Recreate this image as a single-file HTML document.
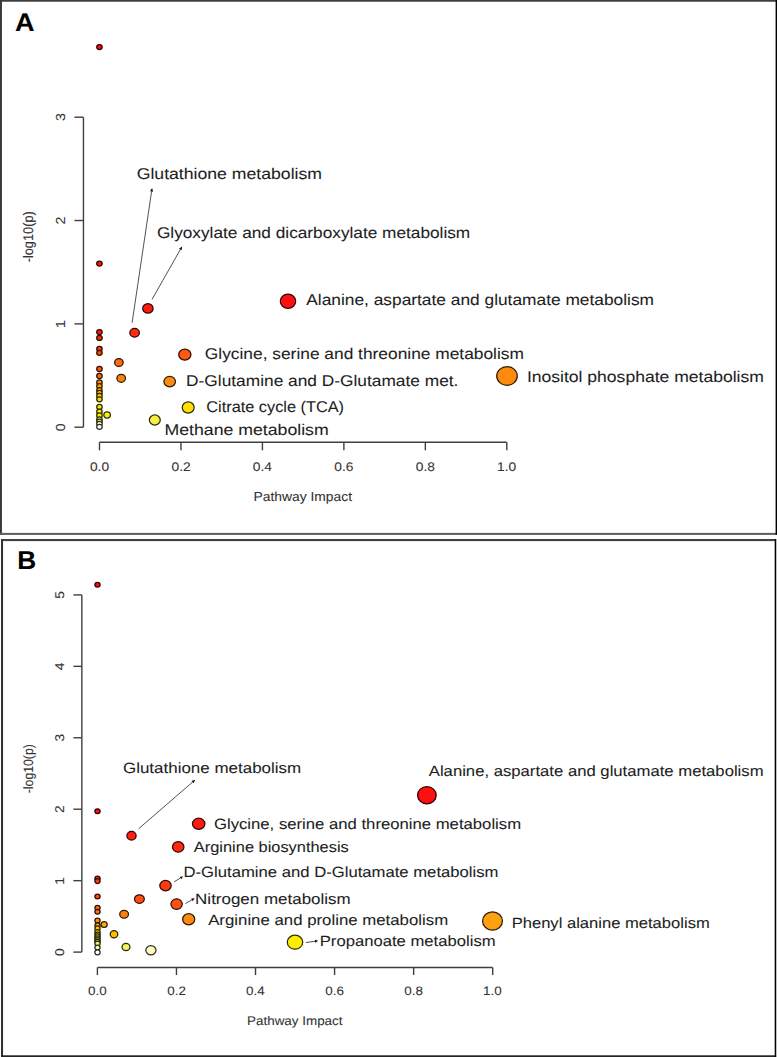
<!DOCTYPE html>
<html><head><meta charset="utf-8"><title>Pathway impact plots</title>
<style>
html,body{margin:0;padding:0;background:#fff;overflow:hidden;width:777px;height:1057px;}
svg{display:block;}
text{font-family:"Liberation Sans",sans-serif;font-kerning:none;font-variant-ligatures:none;text-rendering:geometricPrecision;}
</style></head><body>
<svg width="777" height="1057" viewBox="0 0 777 1057">
<rect x="0" y="0" width="777" height="1057" fill="#fff"/>
<rect x="0" y="0" width="777" height="1.75" fill="#404040"/>
<rect x="0" y="0" width="1.95" height="534.9" fill="#383838"/>
<rect x="0" y="532.9" width="776" height="2.0" fill="#5c5c5c"/>
<rect x="775.6" y="0" width="1.4" height="534.9" fill="#000"/>
<rect x="1" y="539" width="775.3" height="2.1" fill="#424242"/>
<rect x="1" y="539" width="2.05" height="518" fill="#323232"/>
<rect x="1" y="1055.3" width="775.3" height="1.7" fill="#222"/>
<rect x="774.7" y="539" width="1.6" height="518" fill="#000"/>
<rect x="776.3" y="539" width="0.7" height="518" fill="#c8c8c8"/>
<text transform="translate(14.92,30.60) scale(1.0726,1)" font-size="25.29" font-weight="bold" fill="#000" stroke="#000" stroke-width="0.08" >A</text>
<text transform="translate(17.14,568.90) scale(1.0140,1)" font-size="25.87" font-weight="bold" fill="#000" stroke="#000" stroke-width="0.08" >B</text>
<path d="M83.45,117.2 V427.2" stroke="#3f3f3f" stroke-width="1.4" fill="none"/>
<path d="M74.45,427.20 H83.45" stroke="#3f3f3f" stroke-width="1.4"/>
<text transform="translate(65.20,431.13) rotate(-90) scale(1.0800,1)" font-size="13.08" fill="#333" stroke="#333" stroke-width="0.1">0</text>
<path d="M74.45,323.87 H83.45" stroke="#3f3f3f" stroke-width="1.4"/>
<text transform="translate(65.20,327.99) rotate(-90) scale(1.0800,1)" font-size="13.08" fill="#333" stroke="#333" stroke-width="0.1">1</text>
<path d="M74.45,220.53 H83.45" stroke="#3f3f3f" stroke-width="1.4"/>
<text transform="translate(65.20,224.46) rotate(-90) scale(1.0800,1)" font-size="13.08" fill="#333" stroke="#333" stroke-width="0.1">2</text>
<path d="M74.45,117.20 H83.45" stroke="#3f3f3f" stroke-width="1.4"/>
<text transform="translate(65.20,121.09) rotate(-90) scale(1.0800,1)" font-size="13.08" fill="#333" stroke="#333" stroke-width="0.1">3</text>
<path d="M99.5,442.3 H506.8" stroke="#3f3f3f" stroke-width="1.4" fill="none"/>
<path d="M99.50,442.3 V450.3" stroke="#3f3f3f" stroke-width="1.4"/>
<text transform="translate(89.94,470.60) scale(1.1000,1)" font-size="12.50" font-weight="normal" fill="#333" stroke="#333" stroke-width="0.08" >0.0</text>
<path d="M180.96,442.3 V450.3" stroke="#3f3f3f" stroke-width="1.4"/>
<text transform="translate(171.48,470.60) scale(1.1000,1)" font-size="12.50" font-weight="normal" fill="#333" stroke="#333" stroke-width="0.08" >0.2</text>
<path d="M262.42,442.3 V450.3" stroke="#3f3f3f" stroke-width="1.4"/>
<text transform="translate(252.80,470.60) scale(1.1000,1)" font-size="12.50" font-weight="normal" fill="#333" stroke="#333" stroke-width="0.08" >0.4</text>
<path d="M343.88,442.3 V450.3" stroke="#3f3f3f" stroke-width="1.4"/>
<text transform="translate(334.36,470.60) scale(1.1000,1)" font-size="12.50" font-weight="normal" fill="#333" stroke="#333" stroke-width="0.08" >0.6</text>
<path d="M425.34,442.3 V450.3" stroke="#3f3f3f" stroke-width="1.4"/>
<text transform="translate(415.81,470.60) scale(1.1000,1)" font-size="12.50" font-weight="normal" fill="#333" stroke="#333" stroke-width="0.08" >0.8</text>
<path d="M506.80,442.3 V450.3" stroke="#3f3f3f" stroke-width="1.4"/>
<text transform="translate(496.99,470.60) scale(1.1000,1)" font-size="12.50" font-weight="normal" fill="#333" stroke="#333" stroke-width="0.08" >1.0</text>
<text transform="translate(253.46,501.30) scale(1.0599,1)" font-size="13.08" font-weight="normal" fill="#333" stroke="#333" stroke-width="0.08" >Pathway Impact</text>
<text transform="translate(33.00,262.37) rotate(-90) scale(0.9162,1)" font-size="13.95" fill="#333" stroke="#333" stroke-width="0.1">-log10(p)</text>
<path d="M81.85,594.9 V952.1" stroke="#3f3f3f" stroke-width="1.4" fill="none"/>
<path d="M73.35,952.10 H81.85" stroke="#3f3f3f" stroke-width="1.4"/>
<text transform="translate(64.00,955.94) rotate(-90) scale(1.0800,1)" font-size="12.79" fill="#333" stroke="#333" stroke-width="0.1">0</text>
<path d="M73.35,880.66 H81.85" stroke="#3f3f3f" stroke-width="1.4"/>
<text transform="translate(64.00,884.69) rotate(-90) scale(1.0800,1)" font-size="12.79" fill="#333" stroke="#333" stroke-width="0.1">1</text>
<path d="M73.35,809.22 H81.85" stroke="#3f3f3f" stroke-width="1.4"/>
<text transform="translate(64.00,813.06) rotate(-90) scale(1.0800,1)" font-size="12.79" fill="#333" stroke="#333" stroke-width="0.1">2</text>
<path d="M73.35,737.78 H81.85" stroke="#3f3f3f" stroke-width="1.4"/>
<text transform="translate(64.00,741.58) rotate(-90) scale(1.0800,1)" font-size="12.79" fill="#333" stroke="#333" stroke-width="0.1">3</text>
<path d="M73.35,666.34 H81.85" stroke="#3f3f3f" stroke-width="1.4"/>
<text transform="translate(64.00,670.14) rotate(-90) scale(1.0800,1)" font-size="12.79" fill="#333" stroke="#333" stroke-width="0.1">4</text>
<path d="M73.35,594.90 H81.85" stroke="#3f3f3f" stroke-width="1.4"/>
<text transform="translate(64.00,598.73) rotate(-90) scale(1.0800,1)" font-size="12.79" fill="#333" stroke="#333" stroke-width="0.1">5</text>
<path d="M97.4,967.5 H492.7" stroke="#3f3f3f" stroke-width="1.4" fill="none"/>
<path d="M97.40,967.5 V975.0" stroke="#3f3f3f" stroke-width="1.4"/>
<text transform="translate(88.06,995.00) scale(1.1000,1)" font-size="12.21" font-weight="normal" fill="#333" stroke="#333" stroke-width="0.08" >0.0</text>
<path d="M176.46,967.5 V975.0" stroke="#3f3f3f" stroke-width="1.4"/>
<text transform="translate(167.20,995.00) scale(1.1000,1)" font-size="12.21" font-weight="normal" fill="#333" stroke="#333" stroke-width="0.08" >0.2</text>
<path d="M255.52,967.5 V975.0" stroke="#3f3f3f" stroke-width="1.4"/>
<text transform="translate(246.12,995.00) scale(1.1000,1)" font-size="12.21" font-weight="normal" fill="#333" stroke="#333" stroke-width="0.08" >0.4</text>
<path d="M334.58,967.5 V975.0" stroke="#3f3f3f" stroke-width="1.4"/>
<text transform="translate(325.28,995.00) scale(1.1000,1)" font-size="12.21" font-weight="normal" fill="#333" stroke="#333" stroke-width="0.08" >0.6</text>
<path d="M413.64,967.5 V975.0" stroke="#3f3f3f" stroke-width="1.4"/>
<text transform="translate(404.33,995.00) scale(1.1000,1)" font-size="12.21" font-weight="normal" fill="#333" stroke="#333" stroke-width="0.08" >0.8</text>
<path d="M492.70,967.5 V975.0" stroke="#3f3f3f" stroke-width="1.4"/>
<text transform="translate(483.12,995.00) scale(1.1000,1)" font-size="12.21" font-weight="normal" fill="#333" stroke="#333" stroke-width="0.08" >1.0</text>
<text transform="translate(247.10,1024.60) scale(1.0727,1)" font-size="12.50" font-weight="normal" fill="#333" stroke="#333" stroke-width="0.08" >Pathway Impact</text>
<text transform="translate(32.60,793.25) rotate(-90) scale(0.9077,1)" font-size="13.52" fill="#333" stroke="#333" stroke-width="0.1">-log10(p)</text>
<ellipse cx="99.45" cy="47.10" rx="2.73" ry="2.52" fill="#ff0a0a" stroke="#2d0101" stroke-width="1.25"/>
<ellipse cx="99.45" cy="263.60" rx="2.73" ry="2.52" fill="#ff0f0a" stroke="#2d0201" stroke-width="1.25"/>
<ellipse cx="99.45" cy="332.10" rx="2.73" ry="2.52" fill="#ff2000" stroke="#2d0500" stroke-width="1.25"/>
<ellipse cx="99.45" cy="337.90" rx="2.73" ry="2.52" fill="#ff3000" stroke="#2d0800" stroke-width="1.25"/>
<ellipse cx="99.45" cy="348.80" rx="2.73" ry="2.52" fill="#ff4000" stroke="#2d0b00" stroke-width="1.25"/>
<ellipse cx="99.45" cy="352.80" rx="2.73" ry="2.52" fill="#ff4a00" stroke="#2d0d00" stroke-width="1.25"/>
<ellipse cx="99.45" cy="369.00" rx="2.73" ry="2.52" fill="#ff5a10" stroke="#2d1002" stroke-width="1.25"/>
<ellipse cx="99.45" cy="376.00" rx="2.73" ry="2.52" fill="#ff6a10" stroke="#2d1302" stroke-width="1.25"/>
<ellipse cx="99.45" cy="382.50" rx="2.73" ry="2.52" fill="#ff8a00" stroke="#2d1800" stroke-width="1.25"/>
<ellipse cx="99.45" cy="386.10" rx="2.73" ry="2.52" fill="#ffa000" stroke="#2d1c00" stroke-width="1.25"/>
<ellipse cx="99.45" cy="390.20" rx="2.73" ry="2.52" fill="#ffb000" stroke="#2d1f00" stroke-width="1.25"/>
<ellipse cx="99.45" cy="392.80" rx="2.73" ry="2.52" fill="#ffbc00" stroke="#2d2100" stroke-width="1.25"/>
<ellipse cx="99.45" cy="396.00" rx="2.73" ry="2.52" fill="#ffc800" stroke="#2d2400" stroke-width="1.25"/>
<ellipse cx="99.45" cy="399.30" rx="2.73" ry="2.52" fill="#ffd800" stroke="#2d2600" stroke-width="1.25"/>
<ellipse cx="99.45" cy="406.90" rx="2.73" ry="2.52" fill="#ffe800" stroke="#2d2900" stroke-width="1.25"/>
<ellipse cx="99.45" cy="411.70" rx="2.73" ry="2.52" fill="#ffee00" stroke="#2d2a00" stroke-width="1.25"/>
<ellipse cx="99.45" cy="415.50" rx="2.73" ry="2.52" fill="#fff000" stroke="#2d2b00" stroke-width="1.25"/>
<ellipse cx="99.45" cy="419.40" rx="2.73" ry="2.52" fill="#f8f860" stroke="#2c2c11" stroke-width="1.25"/>
<ellipse cx="99.45" cy="421.60" rx="2.73" ry="2.52" fill="#f8f880" stroke="#2c2c17" stroke-width="1.25"/>
<ellipse cx="99.45" cy="423.80" rx="2.73" ry="2.52" fill="#fffcc0" stroke="#2d2d22" stroke-width="1.25"/>
<ellipse cx="99.45" cy="426.80" rx="2.73" ry="2.52" fill="#ffffff" stroke="#2d2d2d" stroke-width="1.25"/>
<ellipse cx="107.10" cy="415.00" rx="3.27" ry="3.08" fill="#fff000" stroke="#2d2b00" stroke-width="1.25"/>
<ellipse cx="118.90" cy="362.50" rx="4.28" ry="3.97" fill="#ff6a10" stroke="#2d1302" stroke-width="1.25"/>
<ellipse cx="121.20" cy="378.30" rx="4.28" ry="3.97" fill="#ff8010" stroke="#2d1702" stroke-width="1.25"/>
<ellipse cx="134.60" cy="332.80" rx="4.78" ry="4.38" fill="#ff2a10" stroke="#2d0702" stroke-width="1.25"/>
<ellipse cx="147.90" cy="308.40" rx="5.17" ry="4.72" fill="#ff1a10" stroke="#2d0402" stroke-width="1.25"/>
<ellipse cx="288.00" cy="301.20" rx="7.68" ry="7.08" fill="#ff1010" stroke="#2d0202" stroke-width="1.25"/>
<ellipse cx="184.80" cy="354.60" rx="6.12" ry="5.53" fill="#ff5a10" stroke="#2d1002" stroke-width="1.25"/>
<ellipse cx="169.70" cy="381.60" rx="5.78" ry="5.22" fill="#ff8a10" stroke="#2d1802" stroke-width="1.25"/>
<ellipse cx="188.20" cy="407.50" rx="5.97" ry="5.62" fill="#ffe000" stroke="#2d2800" stroke-width="1.25"/>
<ellipse cx="154.80" cy="420.00" rx="5.47" ry="5.03" fill="#f8f040" stroke="#2c2b0b" stroke-width="1.25"/>
<ellipse cx="507.00" cy="376.00" rx="10.28" ry="9.32" fill="#ff8a10" stroke="#2d1802" stroke-width="1.25"/>
<line x1="132.10" y1="322.80" x2="151.57" y2="191.56" stroke="#333" stroke-width="0.85"/>
<polygon points="152.10,188.00 153.15,191.80 149.99,191.33" fill="#111"/>
<line x1="152.10" y1="299.30" x2="180.32" y2="249.53" stroke="#333" stroke-width="0.85"/>
<polygon points="182.10,246.40 181.72,250.32 178.93,248.74" fill="#111"/>
<text transform="translate(136.71,178.80) scale(1.1344,1)" font-size="15.55" font-weight="normal" fill="#1e1e1e" stroke="#1e1e1e" stroke-width="0.08" >Glutathione metabolism</text>
<text transform="translate(156.93,238.00) scale(1.1087,1)" font-size="15.55" font-weight="normal" fill="#1e1e1e" stroke="#1e1e1e" stroke-width="0.08" >Glyoxylate and dicarboxylate metabolism</text>
<text transform="translate(306.27,304.60) scale(1.1146,1)" font-size="15.55" font-weight="normal" fill="#1e1e1e" stroke="#1e1e1e" stroke-width="0.08" >Alanine, aspartate and glutamate metabolism</text>
<text transform="translate(204.83,358.80) scale(1.1156,1)" font-size="15.55" font-weight="normal" fill="#1e1e1e" stroke="#1e1e1e" stroke-width="0.08" >Glycine, serine and threonine metabolism</text>
<text transform="translate(186.08,386.00) scale(1.1136,1)" font-size="15.55" font-weight="normal" fill="#1e1e1e" stroke="#1e1e1e" stroke-width="0.08" >D-Glutamine and D-Glutamate met.</text>
<text transform="translate(526.88,382.10) scale(1.1285,1)" font-size="15.55" font-weight="normal" fill="#1e1e1e" stroke="#1e1e1e" stroke-width="0.08" >Inositol phosphate metabolism</text>
<text transform="translate(206.27,412.00) scale(1.0494,1)" font-size="15.55" font-weight="normal" fill="#1e1e1e" stroke="#1e1e1e" stroke-width="0.08" >Citrate cycle (TCA)</text>
<text transform="translate(164.45,435.30) scale(1.1382,1)" font-size="15.55" font-weight="normal" fill="#1e1e1e" stroke="#1e1e1e" stroke-width="0.08" >Methane metabolism</text>
<ellipse cx="97.50" cy="584.70" rx="2.62" ry="2.42" fill="#ff0a0a" stroke="#2d0101" stroke-width="1.25"/>
<ellipse cx="97.50" cy="811.20" rx="2.62" ry="2.42" fill="#ff100a" stroke="#2d0201" stroke-width="1.25"/>
<ellipse cx="97.50" cy="878.60" rx="2.62" ry="2.42" fill="#ff2a00" stroke="#2d0700" stroke-width="1.25"/>
<ellipse cx="97.50" cy="881.10" rx="2.62" ry="2.42" fill="#ff3a10" stroke="#2d0a02" stroke-width="1.25"/>
<ellipse cx="97.50" cy="896.50" rx="2.62" ry="2.42" fill="#ff4a10" stroke="#2d0d02" stroke-width="1.25"/>
<ellipse cx="97.50" cy="907.70" rx="2.62" ry="2.42" fill="#ff6a20" stroke="#2d1305" stroke-width="1.25"/>
<ellipse cx="97.50" cy="911.80" rx="2.62" ry="2.42" fill="#ff7010" stroke="#2d1402" stroke-width="1.25"/>
<ellipse cx="97.50" cy="920.60" rx="2.62" ry="2.42" fill="#ff9010" stroke="#2d1902" stroke-width="1.25"/>
<ellipse cx="97.50" cy="925.30" rx="2.62" ry="2.42" fill="#ffa800" stroke="#2d1e00" stroke-width="1.25"/>
<ellipse cx="97.50" cy="928.40" rx="2.62" ry="2.42" fill="#ffc000" stroke="#2d2200" stroke-width="1.25"/>
<ellipse cx="97.50" cy="932.00" rx="2.62" ry="2.42" fill="#ffd000" stroke="#2d2500" stroke-width="1.25"/>
<ellipse cx="97.50" cy="934.60" rx="2.62" ry="2.42" fill="#e8d820" stroke="#292605" stroke-width="1.25"/>
<ellipse cx="97.50" cy="936.40" rx="2.62" ry="2.42" fill="#e0d840" stroke="#28260b" stroke-width="1.25"/>
<ellipse cx="97.50" cy="938.20" rx="2.62" ry="2.42" fill="#e0e040" stroke="#28280b" stroke-width="1.25"/>
<ellipse cx="97.50" cy="940.00" rx="2.62" ry="2.42" fill="#e0e040" stroke="#28280b" stroke-width="1.25"/>
<ellipse cx="97.50" cy="941.80" rx="2.62" ry="2.42" fill="#e8e860" stroke="#292911" stroke-width="1.25"/>
<ellipse cx="97.50" cy="943.60" rx="2.62" ry="2.42" fill="#f0f080" stroke="#2b2b17" stroke-width="1.25"/>
<ellipse cx="97.50" cy="947.60" rx="2.62" ry="2.42" fill="#fff8a0" stroke="#2d2c1c" stroke-width="1.25"/>
<ellipse cx="97.50" cy="952.40" rx="2.62" ry="2.42" fill="#ffffff" stroke="#2d2d2d" stroke-width="1.25"/>
<ellipse cx="104.10" cy="924.60" rx="3.08" ry="2.88" fill="#ffa810" stroke="#2d1e02" stroke-width="1.25"/>
<ellipse cx="114.00" cy="934.20" rx="3.78" ry="3.58" fill="#ffc000" stroke="#2d2200" stroke-width="1.25"/>
<ellipse cx="126.00" cy="947.00" rx="3.97" ry="3.67" fill="#f8f060" stroke="#2c2b11" stroke-width="1.25"/>
<ellipse cx="150.90" cy="950.30" rx="5.08" ry="4.58" fill="#fffac0" stroke="#2d2d22" stroke-width="1.25"/>
<ellipse cx="124.10" cy="914.20" rx="4.38" ry="3.92" fill="#ff8010" stroke="#2d1702" stroke-width="1.25"/>
<ellipse cx="139.40" cy="899.10" rx="4.88" ry="4.28" fill="#ff5010" stroke="#2d0e02" stroke-width="1.25"/>
<ellipse cx="131.50" cy="835.70" rx="4.62" ry="4.33" fill="#ff2010" stroke="#2d0502" stroke-width="1.25"/>
<ellipse cx="198.70" cy="823.80" rx="6.22" ry="5.58" fill="#ff1a10" stroke="#2d0402" stroke-width="1.25"/>
<ellipse cx="178.20" cy="846.90" rx="5.72" ry="5.28" fill="#ff2a10" stroke="#2d0702" stroke-width="1.25"/>
<ellipse cx="165.50" cy="885.60" rx="5.72" ry="5.17" fill="#ff3a10" stroke="#2d0a02" stroke-width="1.25"/>
<ellipse cx="176.60" cy="904.10" rx="5.67" ry="5.28" fill="#ff5010" stroke="#2d0e02" stroke-width="1.25"/>
<ellipse cx="188.70" cy="919.30" rx="6.03" ry="5.67" fill="#ff8a10" stroke="#2d1802" stroke-width="1.25"/>
<ellipse cx="295.00" cy="942.20" rx="7.72" ry="6.97" fill="#ffee00" stroke="#2d2a00" stroke-width="1.25"/>
<ellipse cx="492.50" cy="921.00" rx="9.93" ry="9.22" fill="#ffa010" stroke="#2d1c02" stroke-width="1.25"/>
<ellipse cx="426.90" cy="795.20" rx="9.32" ry="8.62" fill="#ff1010" stroke="#2d0202" stroke-width="1.25"/>
<line x1="138.70" y1="828.70" x2="192.48" y2="782.16" stroke="#333" stroke-width="0.85"/>
<polygon points="195.20,779.80 193.53,783.37 191.43,780.95" fill="#111"/>
<line x1="174.10" y1="881.80" x2="180.45" y2="878.03" stroke="#333" stroke-width="0.85"/>
<polygon points="183.20,876.40 181.21,879.32 179.68,876.74" fill="#111"/>
<line x1="185.50" y1="903.50" x2="191.91" y2="899.87" stroke="#333" stroke-width="0.85"/>
<polygon points="194.70,898.30 192.65,901.18 191.18,898.57" fill="#111"/>
<line x1="305.90" y1="942.60" x2="315.03" y2="941.26" stroke="#333" stroke-width="0.85"/>
<polygon points="318.20,940.80 315.25,942.75 314.82,939.78" fill="#111"/>
<text transform="translate(122.95,772.70) scale(1.1439,1)" font-size="14.83" font-weight="normal" fill="#1e1e1e" stroke="#1e1e1e" stroke-width="0.08" >Glutathione metabolism</text>
<text transform="translate(428.77,776.00) scale(1.1251,1)" font-size="14.83" font-weight="normal" fill="#1e1e1e" stroke="#1e1e1e" stroke-width="0.08" >Alanine, aspartate and glutamate metabolism</text>
<text transform="translate(213.96,828.50) scale(1.1256,1)" font-size="14.83" font-weight="normal" fill="#1e1e1e" stroke="#1e1e1e" stroke-width="0.08" >Glycine, serine and threonine metabolism</text>
<text transform="translate(193.87,851.70) scale(1.1051,1)" font-size="14.83" font-weight="normal" fill="#1e1e1e" stroke="#1e1e1e" stroke-width="0.08" >Arginine biosynthesis</text>
<text transform="translate(183.53,876.80) scale(1.1239,1)" font-size="14.83" font-weight="normal" fill="#1e1e1e" stroke="#1e1e1e" stroke-width="0.08" >D-Glutamine and D-Glutamate metabolism</text>
<text transform="translate(195.11,903.80) scale(1.1438,1)" font-size="14.83" font-weight="normal" fill="#1e1e1e" stroke="#1e1e1e" stroke-width="0.08" >Nitrogen metabolism</text>
<text transform="translate(208.17,924.70) scale(1.1329,1)" font-size="14.83" font-weight="normal" fill="#1e1e1e" stroke="#1e1e1e" stroke-width="0.08" >Arginine and proline metabolism</text>
<text transform="translate(511.64,928.40) scale(1.1178,1)" font-size="14.83" font-weight="normal" fill="#1e1e1e" stroke="#1e1e1e" stroke-width="0.08" >Phenyl alanine metabolism</text>
<text transform="translate(319.73,945.80) scale(1.1231,1)" font-size="14.83" font-weight="normal" fill="#1e1e1e" stroke="#1e1e1e" stroke-width="0.08" >Propanoate metabolism</text>
</svg>
</body></html>
